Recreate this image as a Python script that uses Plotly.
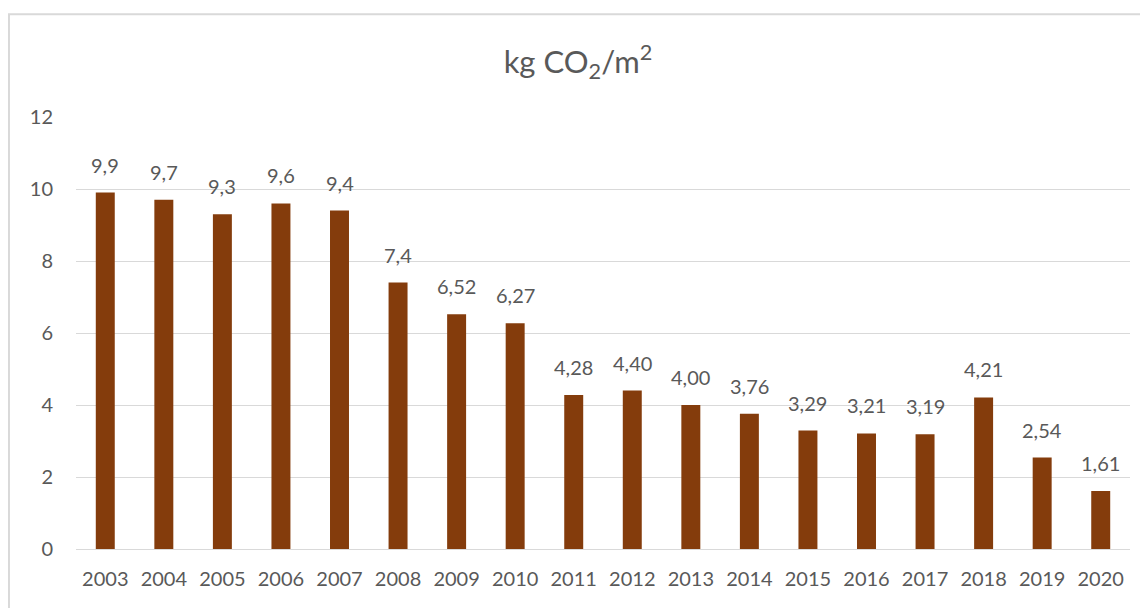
import plotly.graph_objects as go

years = ["2003", "2004", "2005", "2006", "2007", "2008", "2009", "2010", "2011",
         "2012", "2013", "2014", "2015", "2016", "2017", "2018", "2019", "2020"]
values = [9.9, 9.7, 9.3, 9.6, 9.4, 7.4, 6.52, 6.27, 4.28,
          4.40, 4.00, 3.76, 3.29, 3.21, 3.19, 4.21, 2.54, 1.61]
labels = ["9,9", "9,7", "9,3", "9,6", "9,4", "7,4", "6,52", "6,27", "4,28",
          "4,40", "4,00", "3,76", "3,29", "3,21", "3,19", "4,21", "2,54", "1,61"]
y_ticks = [0, 2, 4, 6, 8, 10, 12]

FONT = "Lato, 'Open Sans', sans-serif"
GRAY = "#595959"

idx = list(range(len(years)))

fig = go.Figure(go.Bar(
    x=idx, y=values, width=0.324,
    marker=dict(color="#843C0C", line=dict(width=0)),
))

for i, v, lab in zip(idx, values, labels):
    fig.add_annotation(x=i, y=v, text=lab, xref="x", yref="y", showarrow=False,
                       yanchor="bottom", yshift=14,
                       font=dict(size=20, color=GRAY, family=FONT))

fig.update_layout(
    width=1140, height=600,
    margin=dict(l=68, r=18, t=109, b=59),
    paper_bgcolor="white", plot_bgcolor="white",
    showlegend=False,
    title=dict(text="kg CO<sub>2</sub>/m<sup>2</sup>", x=0.5, xanchor="center",
               y=0.91, yanchor="middle",
               font=dict(size=31, color=GRAY, family=FONT)),
    xaxis=dict(range=[-0.5, len(years) - 0.5], tickvals=idx, ticktext=years,
               showgrid=False, showline=True, linecolor="#d9d9d9", linewidth=1,
               zeroline=False, ticklabelstandoff=12,
               tickfont=dict(size=20, color=GRAY, family=FONT), ticks=""),
    yaxis=dict(range=[0, 12], tickvals=y_ticks, showgrid=True, gridcolor="#d9d9d9",
               gridwidth=1, zeroline=False, showline=False, ticks="",
               ticklabelstandoff=22,
               tickfont=dict(size=20, color=GRAY, family=FONT)),
)

fig.add_shape(type="rect", xref="paper", yref="paper",
              x0=-0.0636, x1=1.2, y0=-0.5, y1=1.238,
              line=dict(color="#d9d9d9", width=2), fillcolor="rgba(0,0,0,0)",
              layer="below")

fig.write_html("out.html")
